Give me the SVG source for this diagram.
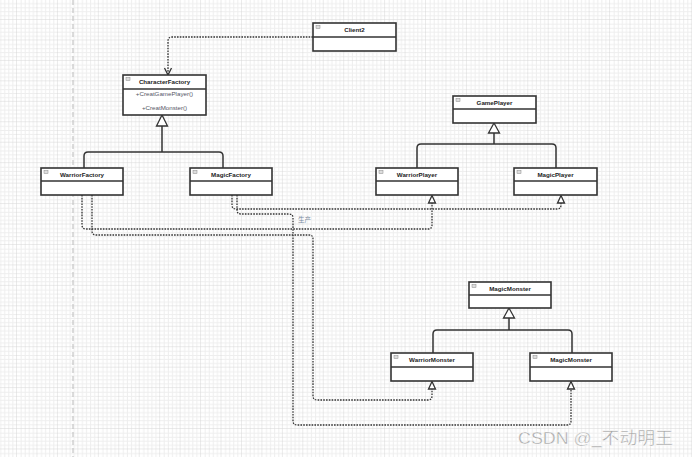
<svg xmlns="http://www.w3.org/2000/svg" width="692" height="457" viewBox="0 0 692 457">
<defs>
<pattern id="grid" x="-3.45" y="-0.45" width="20.45" height="20.45" patternUnits="userSpaceOnUse">
<path d="M4.09,0V20.45M8.18,0V20.45M12.27,0V20.45M16.36,0V20.45M0,4.09H20.45M0,8.18H20.45M0,12.27H20.45M0,16.36H20.45" stroke="#eeeeee" stroke-width="1" fill="none"/>
<path d="M20.45,0V20.45M0,20.45H20.45" stroke="#d6d6d6" stroke-width="1" fill="none"/>
</pattern>
<style>
.box{fill:#fff;stroke:#333;stroke-width:1.6}
.div{stroke:#333;stroke-width:1.4}
.ico{fill:#ddd;stroke:#888;stroke-width:0.5}
.name{font-family:"Liberation Sans",Arial,sans-serif;font-size:6.2px;font-weight:bold;fill:#222;text-anchor:middle}
.mem{font-family:"Liberation Sans",Arial,sans-serif;font-size:6.2px;fill:#556;text-anchor:middle}
.inh{fill:none;stroke:#333;stroke-width:1.5}
.dep{fill:none;stroke:#333;stroke-width:1.3;stroke-dasharray:1.6 1.2}
.tri{fill:#fff;stroke:#333;stroke-width:1.3}
</style>
</defs>
<rect width="692" height="457" fill="#fff"/>
<rect width="692" height="457" fill="url(#grid)"/>
<line x1="73" y1="0" x2="73" y2="457" stroke="#bbb" stroke-width="1" stroke-dasharray="5 3"/>

<g id="connectors">
<path class="inh" d="M84,168V156Q84,152 88,152H219Q223,152 223,156V168M162,126V152"/>
<polygon class="tri" points="162,115 156.5,126 167.5,126"/>
<path class="inh" d="M417,168V148Q417,144 421,144H552Q556,144 556,148V168M494,133V144"/>
<polygon class="tri" points="494,123 488.5,133 499.5,133"/>
<path class="inh" d="M433,353V334Q433,330 437,330H568Q572,330 572,334V353M509,318V330"/>
<polygon class="tri" points="509,308 503.5,318 514.5,318"/>

<path class="dep" d="M313,37H172Q168,37 168,41V75"/>
<path fill="none" stroke="#333" stroke-width="1.3" d="M164.5,68L168,75L171.5,68"/>

<path class="dep" d="M82,195V225Q82,229 86,229H428Q432,229 432,225V203"/>
<polygon class="tri" points="432,195.5 428.5,203 435.5,203"/>
<path class="dep" d="M92,195V231Q92,235 96,235H309Q313,235 313,239V396Q313,400 317,400H428Q432,400 432,396V389"/>
<polygon class="tri" points="432,381.5 428.5,389 435.5,389"/>
<path class="dep" d="M232,195V205Q232,209 236,209H557Q561,209 561,205V203"/>
<polygon class="tri" points="561,195.5 557.5,203 564.5,203"/>
<path class="dep" d="M237,195V210Q237,214 241,214H289Q293,214 293,218V421Q293,425 297,425H567Q571,425 571,421V389"/>
<polygon class="tri" points="571,381.5 567.5,389 574.5,389"/>
<text x="298" y="222" font-family="'Noto Sans CJK SC',sans-serif" font-size="6.5" fill="#7a8aa0">生产</text>
</g>

<g id="Client2">
<rect class="box" x="313" y="23" width="83" height="28"/>
<line class="div" x1="313" y1="37" x2="396" y2="37"/>
<rect class="ico" x="316" y="25.5" width="4" height="3"/>
<text class="name" x="354.5" y="32.2">Client2</text>
</g>
<g id="CharacterFactory">
<rect class="box" x="123" y="75" width="83" height="40"/>
<line class="div" x1="123" y1="89" x2="206" y2="89"/>
<rect class="ico" x="126" y="77.5" width="4" height="3"/>
<text class="name" x="164.5" y="84.2">CharacterFactory</text>
<text class="mem" x="164.5" y="96.3">+CreatGamePlayer()</text>
<text class="mem" x="164.5" y="110.3">+CreatMonster()</text>
</g>
<g id="WarriorFactory">
<rect class="box" x="41" y="168" width="82" height="27"/>
<line class="div" x1="41" y1="181" x2="123" y2="181"/>
<rect class="ico" x="44" y="170.5" width="4" height="3"/>
<text class="name" x="82" y="176.7">WarriorFactory</text>
</g>
<g id="MagicFactory">
<rect class="box" x="190" y="168" width="82" height="27"/>
<line class="div" x1="190" y1="181" x2="272" y2="181"/>
<rect class="ico" x="193" y="170.5" width="4" height="3"/>
<text class="name" x="231" y="176.7">MagicFactory</text>
</g>
<g id="GamePlayer">
<rect class="box" x="453" y="96" width="83" height="27"/>
<line class="div" x1="453" y1="109" x2="536" y2="109"/>
<rect class="ico" x="456" y="98.5" width="4" height="3"/>
<text class="name" x="494.5" y="104.7">GamePlayer</text>
</g>
<g id="WarriorPlayer">
<rect class="box" x="376" y="168" width="82" height="27"/>
<line class="div" x1="376" y1="181" x2="458" y2="181"/>
<rect class="ico" x="379" y="170.5" width="4" height="3"/>
<text class="name" x="417" y="176.7">WarriorPlayer</text>
</g>
<g id="MagicPlayer">
<rect class="box" x="514" y="168" width="83" height="27"/>
<line class="div" x1="514" y1="181" x2="597" y2="181"/>
<rect class="ico" x="517" y="170.5" width="4" height="3"/>
<text class="name" x="555.5" y="176.7">MagicPlayer</text>
</g>
<g id="MagicMonsterBase">
<rect class="box" x="469" y="282" width="82" height="26"/>
<line class="div" x1="469" y1="295" x2="551" y2="295"/>
<rect class="ico" x="472" y="284.5" width="4" height="3"/>
<text class="name" x="510" y="290.7">MagicMonster</text>
</g>
<g id="WarriorMonster">
<rect class="box" x="391" y="353" width="82" height="28"/>
<line class="div" x1="391" y1="367" x2="473" y2="367"/>
<rect class="ico" x="394" y="355.5" width="4" height="3"/>
<text class="name" x="432" y="362.2">WarriorMonster</text>
</g>
<g id="MagicMonster">
<rect class="box" x="530" y="353" width="82" height="28"/>
<line class="div" x1="530" y1="367" x2="612" y2="367"/>
<rect class="ico" x="533" y="355.5" width="4" height="3"/>
<text class="name" x="571" y="362.2">MagicMonster</text>
</g>
<text x="518" y="444" font-family="'Liberation Sans','Noto Sans CJK SC',sans-serif" font-size="17" fill="#a3a3a3" stroke="#fff" stroke-width="0.4" textLength="155" lengthAdjust="spacingAndGlyphs">CSDN @_不动明王</text>
</svg>
